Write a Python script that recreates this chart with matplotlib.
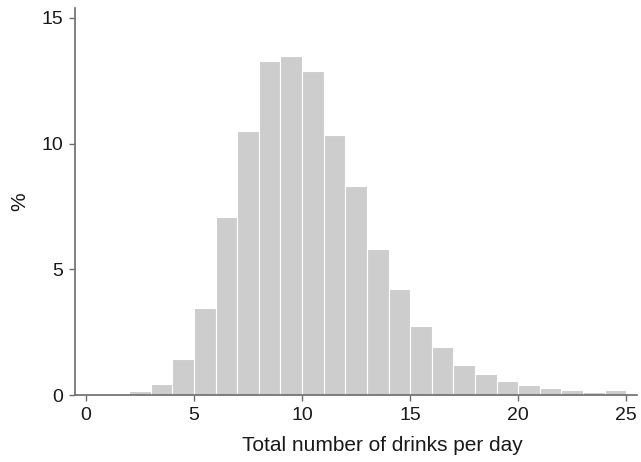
import matplotlib
matplotlib.use("Agg")
import matplotlib.pyplot as plt

bin_left = list(range(0, 25))
percent = [0.03, 0.06, 0.15, 0.45, 1.42, 3.45, 7.1, 10.5, 13.3, 13.5, 12.9, 10.35,
           8.3, 5.8, 4.2, 2.75, 1.9, 1.2, 0.82, 0.55, 0.4, 0.27, 0.2, 0.13, 0.21]
xticks = [0, 5, 10, 15, 20, 25]
yticks = [0, 5, 10, 15]

plt.rcParams['font.family'] = ['Liberation Sans', 'DejaVu Sans']
fig = plt.figure(figsize=(6.41, 4.62), dpi=100)
ax = fig.add_axes([0.117, 0.145, 0.877, 0.838])
ax.bar(bin_left, percent, width=1.0, align='edge', color='#cdcdcd',
       edgecolor='white', linewidth=0.8)
ax.set_xlim(-0.5, 25.5)
ax.set_ylim(0, 15.4)
ax.set_xticks(xticks)
ax.set_yticks(yticks)
for s in ['top', 'right']:
    ax.spines[s].set_visible(False)
for s in ['left', 'bottom']:
    ax.spines[s].set_color('#6b6b6b')
    ax.spines[s].set_linewidth(1.2)
ax.tick_params(axis='both', colors='#6b6b6b', length=4.5, width=1.0,
               labelsize=14, labelcolor='#1a1a1a', direction='out', pad=4)
ax.set_xlabel('Total number of drinks per day', fontsize=15, color='#1a1a1a',
              labelpad=9, x=0.546)
ax.set_ylabel('%', fontsize=15, color='#1a1a1a', labelpad=9)
fig.savefig('out.png', dpi=100)
